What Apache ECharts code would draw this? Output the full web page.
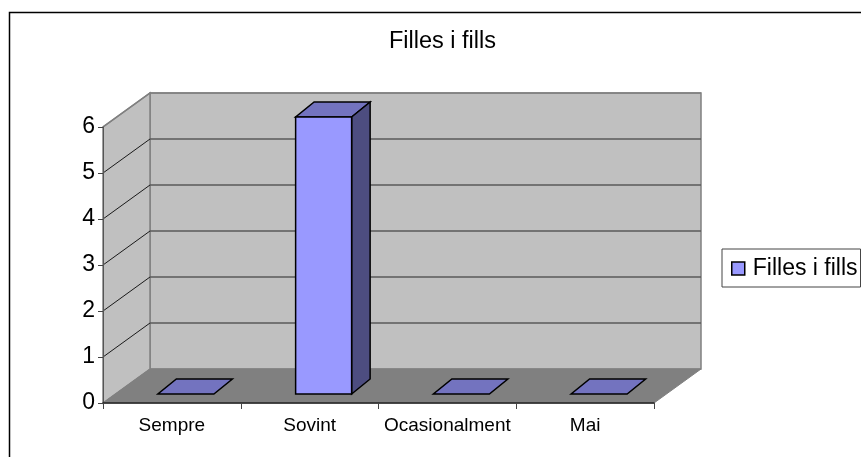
<!DOCTYPE html>
<html>
<head>
<meta charset="utf-8">
<style>html,body{margin:0;padding:0;background:#fff}#c{width:861px;height:457px}</style>
<script src="https://cdn.jsdelivr.net/npm/echarts@6/dist/echarts.min.js"></script>
</head>
<body>
<div id="c"></div>
<script>
const chartTitle = 'Filles i fills';
const seriesName = 'Filles i fills';
const categories = ['Sempre', 'Sovint', 'Ocasionalment', 'Mai'];
const values = [0, 6, 0, 0];
const valueTicks = [0, 1, 2, 3, 4, 5, 6];

// projection of the fake 3D box, in pixels
const DX = 47, DY = -34;         // wall depth
const BAR_DX = 14, BAR_DY = -9;  // bar front face offset from the front plane
const BAR_W = 56, BAR_DEPTH_X = 18.5, BAR_DEPTH_Y = -15;

const chart = echarts.init(document.getElementById('c'), null, {renderer: 'canvas'});

function poly(points, fill, stroke, lw, z2) {
  return {type: 'polygon', z2: z2 || 0, shape: {points},
    style: {fill, stroke: stroke || 'none', lineWidth: lw || 0, lineJoin: 'miter'}};
}
function line(a, b, stroke, lw, z2) {
  return {type: 'line', z2: z2 || 0,
    shape: {x1: a[0], y1: a[1], x2: b[0], y2: b[1]}, style: {stroke, lineWidth: lw}};
}

function renderWalls(params, api) {
  const band = api.size([1, 0])[0];
  const x0 = api.coord([0, 0])[0] - band / 2;
  const x1 = api.coord([categories.length - 1, 0])[0] + band / 2;
  const yB = api.coord([0, valueTicks[0]])[1];
  const yT = api.coord([0, valueTicks[valueTicks.length - 1]])[1];
  return {type: 'group', children: [
    poly([[x0 + DX, yB + DY], [x1 + DX, yB + DY], [x1 + DX, yT + DY], [x0 + DX, yT + DY]], '#c0c0c0', '#808080', 1.5),
    poly([[x0, yB], [x0 + DX, yB + DY], [x0 + DX, yT + DY], [x0, yT]], '#c0c0c0', '#808080', 1.5),
    poly([[x0, yB], [x1, yB], [x1 + DX, yB + DY], [x0 + DX, yB + DY]], '#808080', '#808080', 1)
  ]};
}

function renderGrid(params, api) {
  const v = api.value(0);
  const band = api.size([1, 0])[0];
  const x0 = api.coord([0, v])[0] - band / 2;
  const x1 = api.coord([categories.length - 1, v])[0] + band / 2;
  const y = api.coord([0, v])[1];
  const isTop = v === valueTicks[valueTicks.length - 1];
  return {type: 'group', children: [
    line([x0 + DX, y + DY], [x1 + DX, y + DY], isTop ? '#808080' : '#5a5a5a', 1.5),
    line([x0, y], [x0 + DX, y + DY], isTop ? '#808080' : '#1a1a1a', isTop ? 1.5 : 1)
  ]};
}

function renderBar(params, api) {
  const c = api.coord([api.value(0), 0]);
  const t = api.coord([api.value(0), api.value(1)]);
  const l = c[0] + BAR_DX - BAR_W / 2, r = l + BAR_W;
  const b = c[1] + BAR_DY, top = t[1] + BAR_DY - (api.value(1) > 0 ? 1 : 0);
  const ink = '#000';
  const kids = [];
  kids.push(poly([[l, top], [r, top], [r + BAR_DEPTH_X, top + BAR_DEPTH_Y], [l + BAR_DEPTH_X, top + BAR_DEPTH_Y]], '#7373bf', ink, 1.5));
  if (b - top > 0.5) {
    kids.push(poly([[r, top], [r + BAR_DEPTH_X, top + BAR_DEPTH_Y], [r + BAR_DEPTH_X, b + BAR_DEPTH_Y], [r, b]], '#4d4d80', ink, 1.5));
    kids.push(poly([[l, top], [r, top], [r, b], [l, b]], '#9999ff', ink, 1.5));
  }
  return {type: 'group', children: kids};
}

chart.setOption({
  animation: false,
  backgroundColor: '#fff',
  graphic: [{
    type: 'rect', z: -10, silent: true,
    shape: {x: 9.5, y: 12.5, width: 900, height: 500},
    style: {fill: '#fff', stroke: '#000', lineWidth: 1.5}
  }],
  title: {
    text: chartTitle, left: 437.5, top: 25, textAlign: 'center',
    textStyle: {fontFamily: 'Liberation Sans', fontSize: 23.5, fontWeight: 'normal', color: '#000'}
  },
  legend: {
    data: [seriesName], left: 722, top: 249,
    orient: 'vertical', icon: 'rect', itemWidth: 13, itemHeight: 13, itemGap: 0,
    padding: [8, 3, 7, 9], borderColor: '#444', borderWidth: 1, backgroundColor: '#fff',
    itemStyle: {borderColor: '#000', borderWidth: 1.5},
    textStyle: {fontFamily: 'Liberation Sans', fontSize: 23, color: '#000', padding: [0, 0, 0, 3]}
  },
  grid: {left: 103, right: 207, top: 127, bottom: 54, containLabel: false},
  xAxis: {
    type: 'category', data: categories, boundaryGap: true, z: 5,
    axisLine: {show: true, lineStyle: {color: '#222', width: 1.5}},
    axisTick: {show: true, alignWithLabel: false, length: 6, lineStyle: {color: '#444', width: 1}},
    axisLabel: {interval: 0, margin: 13, fontFamily: 'Liberation Sans', fontSize: 19, color: '#000'}
  },
  yAxis: {
    type: 'value', min: 0, max: 6, interval: 1, z: 5,
    axisLine: {show: true, lineStyle: {color: '#555', width: 1}},
    axisTick: {show: true, length: 5, lineStyle: {color: '#444', width: 1}},
    splitLine: {show: false},
    axisLabel: {margin: 8, padding: [7, 0, 0, 0], fontFamily: 'Liberation Sans', fontSize: 23, color: '#000'}
  },
  series: [
    {type: 'custom', name: 'walls', silent: true, z: 1, clip: false, coordinateSystem: 'cartesian2d',
     data: [[0, 0]], renderItem: renderWalls},
    {type: 'custom', name: 'gridlines', silent: true, z: 1.5, clip: false, coordinateSystem: 'cartesian2d',
     encode: {x: 1, y: 0},
     data: valueTicks.slice(1).map(v => [v, 0]), renderItem: renderGrid},
    {type: 'custom', name: seriesName, z: 3, clip: false, coordinateSystem: 'cartesian2d',
     itemStyle: {color: '#9999ff'},
     encode: {x: 0, y: 1},
     data: values.map((v, i) => [i, v]), renderItem: renderBar}
  ]
});
</script>
</body>
</html>
